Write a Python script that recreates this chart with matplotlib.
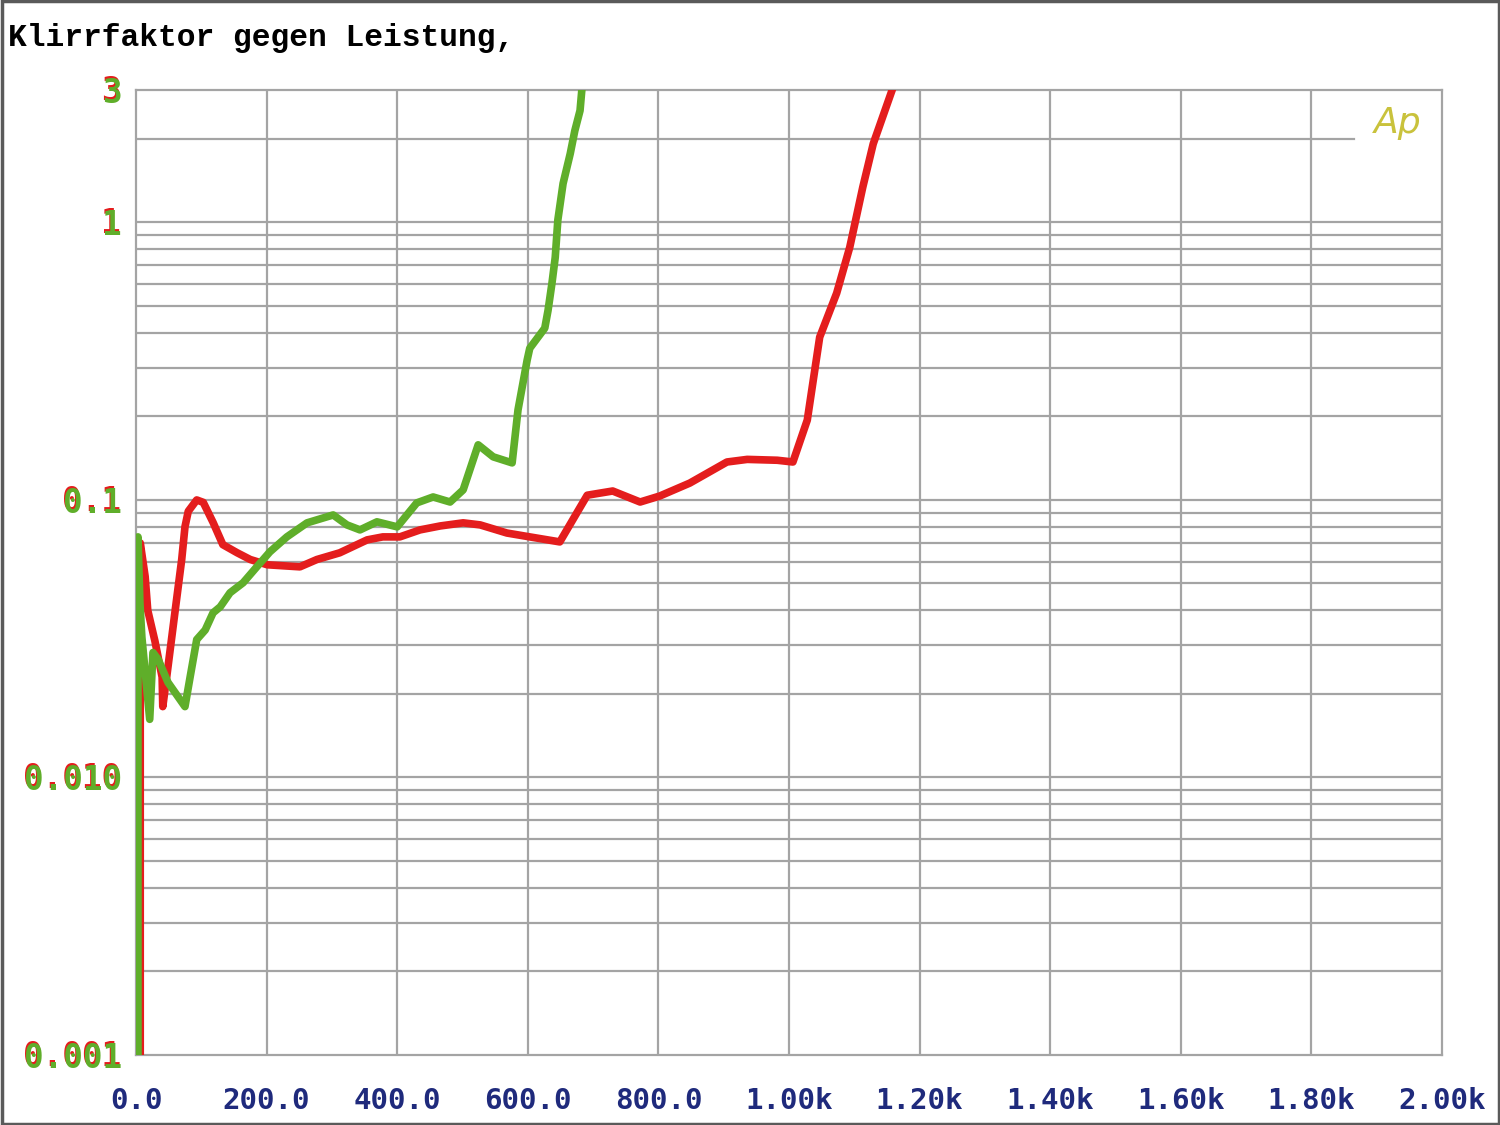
import matplotlib
matplotlib.use("Agg")
import matplotlib.pyplot as plt
import matplotlib.transforms as mtransforms
from matplotlib.ticker import LogLocator, NullFormatter

# Data (x in W, y in %)
red_x = [6.5, 6.5, 14, 18, 29, 40, 41, 47, 60, 70, 75, 80, 93, 103, 118, 133, 155, 175,
         201, 251, 277, 312, 354, 378, 404, 435, 466, 501, 527, 568, 603, 649, 691,
         730, 772, 802, 848, 905, 936, 982, 1006, 1028, 1047, 1073, 1093, 1113, 1129, 1159]
red_y = [0.0008, 0.070, 0.053, 0.040, 0.031, 0.023, 0.018, 0.023, 0.040, 0.061, 0.080,
         0.091, 0.100, 0.098, 0.083, 0.069, 0.0645, 0.061, 0.0584, 0.0574, 0.061, 0.0645,
         0.0718, 0.0736, 0.0736, 0.078, 0.0806, 0.0827, 0.0813, 0.076, 0.0736, 0.0706,
         0.104, 0.1077, 0.0983, 0.1033, 0.115, 0.137, 0.140, 0.139, 0.137, 0.194, 0.386,
         0.556, 0.813, 1.34, 1.92, 3.05]

green_x = [3, 3, 6, 9, 21, 26, 34, 49, 75, 83, 93, 106, 118, 129, 144, 164, 185,
           205, 231, 262, 302, 323, 343, 369, 400, 430, 455, 481, 501, 524, 547, 576,
           585, 599, 603, 626, 631, 637, 642, 646, 654, 665, 672, 680, 683]
green_y = [0.0008, 0.0736, 0.0426, 0.032, 0.0162, 0.0282, 0.0266, 0.022, 0.018, 0.0231,
           0.0314, 0.034, 0.0392, 0.0412, 0.0463, 0.0503, 0.0574, 0.065, 0.0736, 0.0827,
           0.0883, 0.0813, 0.078, 0.0834, 0.080, 0.0976, 0.1025, 0.0983, 0.1087, 0.158,
           0.143, 0.136, 0.211, 0.319, 0.352, 0.416, 0.482, 0.604, 0.748, 1.02, 1.38,
           1.77, 2.14, 2.53, 3.05]

x_ticks = [0, 200, 400, 600, 800, 1000, 1200, 1400, 1600, 1800, 2000]
x_tick_labels = ["0.0", "200.0", "400.0", "600.0", "800.0", "1.00k", "1.20k",
                 "1.40k", "1.60k", "1.80k", "2.00k"]
y_ticks = [0.001, 0.01, 0.1, 1, 3]
y_tick_labels = ["0.001", "0.010", "0.1", "1", "3"]

GREEN = "#5fae2a"
RED = "#e41d1d"
NAVY = "#1f2a7c"
GRID = "#a4a4a4"

fig = plt.figure(figsize=(15, 11.25), dpi=100)
ax = fig.add_axes([136 / 1500, 1 - 1055 / 1125, 1306 / 1500, 965 / 1125])

ax.set_yscale("log")
ax.set_xlim(0, 2000)
ax.set_ylim(0.001, 3)

# grid lines (the "2" line stops short of the Ap logo)
for xv in x_ticks[1:-1]:
    ax.axvline(xv, color=GRID, lw=1.6, zorder=1)
grid_vals = [m * 10.0 ** e for e in (-3, -2, -1, 0) for m in range(1, 10)]
for yv in grid_vals:
    if 0.001 < yv < 3:
        ax.axhline(yv, xmax=0.933 if abs(yv - 2) < 1e-9 else 1, color=GRID, lw=1.6, zorder=1)

for s in ax.spines.values():
    s.set_color(GRID)
    s.set_linewidth(1.6)

ax.plot(red_x, red_y, color=RED, lw=5.5, zorder=3, solid_joinstyle="round")
ax.plot(green_x, green_y, color=GREEN, lw=5.5, zorder=4, solid_joinstyle="round")

ax.set_xticks(x_ticks)
ax.set_xticklabels(x_tick_labels, family="DejaVu Sans Mono", fontweight="bold",
                   fontsize=21, color=NAVY)
ax.yaxis.set_minor_locator(LogLocator(subs=range(2, 10)))
ax.yaxis.set_minor_formatter(NullFormatter())
ax.set_yticks(y_ticks)
ax.set_yticklabels(y_tick_labels, family="DejaVu Sans Mono", fontweight="bold",
                   fontsize=23.5, color=GREEN)
ax.tick_params(axis="both", which="both", length=0)
ax.tick_params(axis="x", pad=23)
ax.tick_params(axis="y", pad=10)

# thin red shadow behind the y labels
shadow = mtransforms.offset_copy(ax.get_yaxis_transform(), fig=fig, x=-11.0, y=-0.8, units="points")
for yv, lab in zip(y_ticks, y_tick_labels):
    ax.text(0, yv, lab, transform=shadow, ha="right", va="center", color=RED,
            family="DejaVu Sans Mono", fontweight="bold", fontsize=23.5, zorder=0, clip_on=False)

fig.text(8 / 1500, 1 - 38 / 1125, "Klirrfaktor gegen Leistung,", family="Liberation Mono",
         fontweight="bold", fontsize=22.5, color="black", ha="left", va="center")
ax.text(0.966, 0.966, "Ap", transform=ax.transAxes, color="#c9c23c", fontsize=26,
        style="italic", ha="center", va="center")

fig.patches.append(plt.Rectangle((0.001, 0.001), 0.998, 0.998, transform=fig.transFigure,
                                 fill=False, edgecolor="#5a5a5a", lw=2.5))

fig.savefig("out.png", dpi=100, facecolor="white")
